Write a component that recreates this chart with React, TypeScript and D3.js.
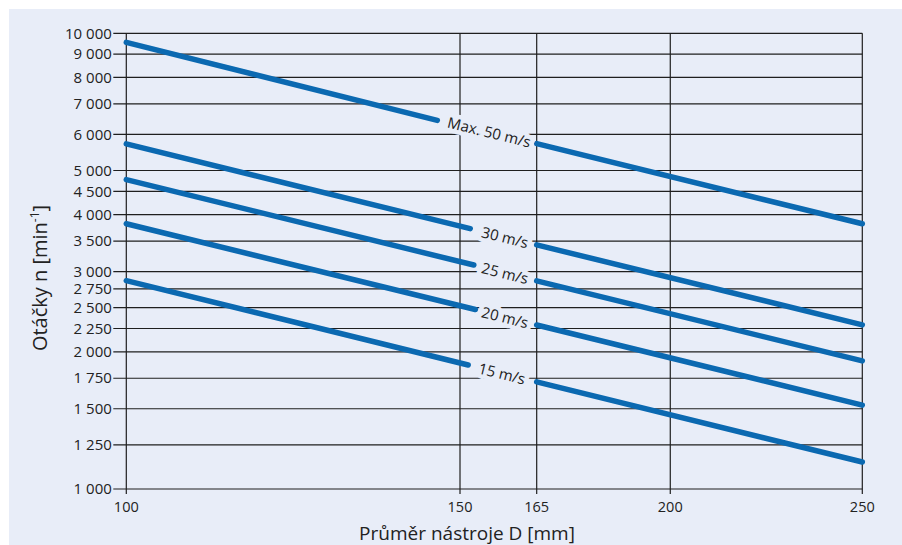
import React from "react";
import * as d3 from "d3";

// ---- data ----
const xTicks = [100, 150, 165, 200, 250];
const yTicks = [1000, 1250, 1500, 1750, 2000, 2250, 2500, 2750, 3000, 3500, 4000, 4500, 5000, 6000, 7000, 8000, 9000, 10000];
const speedLabels = ["Max. 50 m/s", "30 m/s", "25 m/s", "20 m/s", "15 m/s"];
const nAt100 = [9550, 5720, 4775, 3820, 2865];
const leftEndD = [146.6, 152.0, 152.7, 153.0, 151.6];
const leftEndN = [6440, 3728, 3101, 2477, 1871];
const rightStartD = [165, 165, 165, 165, 165];
const nAt165 = [5728, 3434, 2862, 2290, 1718];
const nAt250 = [3820, 2292, 1910, 1528, 1146];
const labelD = [148.2, 154.3, 154.3, 154.3, 153.7];

const W = 902;
const H = 545;
const left = 126.3;
const right = 862.3;
const top = 33.3;
const bottom = 489;
// relative placement of the (non-uniform) x ticks along the axis
const xTickFrac = [0, 0.4534, 0.5576, 0.7391, 1];

const BG = "#e8edf8";
const GRID = "#1f1f1f";
const BLUE = "#0b69b1";
const TEXT = "#222";
const FONT = "'Open Sans', 'Noto Sans', sans-serif";

const locale = d3.formatLocale({ decimal: ",", thousands: "\u2009", grouping: [3], currency: ["", ""] });
const fmt = (v: number) => locale.format(",d")(v).replace("\u2009", " ");

export default function App() {
  const x = d3
    .scaleLinear()
    .domain(xTicks)
    .range(xTickFrac.map((f) => left + f * (right - left)));
  const y = d3.scaleLog().domain([1000, 10000]).range([bottom, top]);

  const line = d3
    .line<[number, number]>()
    .x((d) => x(d[0]))
    .y((d) => y(d[1]));

  return (
    <svg width={W} height={H} style={{ position: "absolute", left: 0, top: 0 }} fontFamily={FONT}>
      <rect x={9} y={9} width={W - 9} height={H - 9} fill={BG} />
      {/* horizontal grid */}
      {yTicks.map((t) => (
        <g key={t}>
          <line x1={left - 13} x2={right} y1={y(t)} y2={y(t)} stroke={GRID} strokeWidth={1.2} />
          <text x={left - 14.5} y={y(t)} dy="0.35em" textAnchor="end" fontSize={15} fill={TEXT}>
            {fmt(t)}
          </text>
        </g>
      ))}
      {/* vertical grid */}
      {xTicks.map((t) => (
        <g key={t}>
          <line x1={x(t)} x2={x(t)} y1={top} y2={bottom + 5} stroke={GRID} strokeWidth={1.2} />
          <text x={x(t)} y={bottom + 22.5} textAnchor="middle" fontSize={14.5} fill={TEXT}>
            {t}
          </text>
        </g>
      ))}
      {/* series */}
      {speedLabels.map((lab, i) => {
        const x0 = x(100), y0 = y(nAt100[i]);
        const x1 = x(250), y1 = y(nAt250[i]);
        const ang = (Math.atan2(y1 - y0, x1 - x0) * 180) / Math.PI;
        const lx = x(labelD[i]);
        const ly = y0 + ((lx - x0) * (y1 - y0)) / (x1 - x0);
        return (
          <g key={lab}>
            <path
              d={line([[100, nAt100[i]], [leftEndD[i], leftEndN[i]]]) || ""}
              fill="none"
              stroke={BLUE}
              strokeWidth={5.5}
              strokeLinecap="round"
            />
            <path
              d={line([[rightStartD[i], nAt165[i]], [250, nAt250[i]]]) || ""}
              fill="none"
              stroke={BLUE}
              strokeWidth={5.5}
              strokeLinecap="round"
            />
            <text
              transform={`translate(${lx},${ly}) rotate(${ang})`}
              dy={5.8}
              fontSize={15}
              fill={TEXT}
              stroke={BG}
              strokeWidth={9}
              paintOrder="stroke"
              strokeLinejoin="round"
            >
              {lab}
            </text>
          </g>
        );
      })}
      {/* axis titles */}
      <text x={467} y={540} textAnchor="middle" fontSize={19} fill={TEXT}>
        Průměr nástroje D [mm]
      </text>
      <text transform={`translate(46.7,278) rotate(-90)`} textAnchor="middle" fontSize={20} fill={TEXT}>
        Otáčky n [min
        <tspan fontSize={12} dy={-8}>-1</tspan>
        <tspan dy={8}>]</tspan>
      </text>
    </svg>
  );
}
